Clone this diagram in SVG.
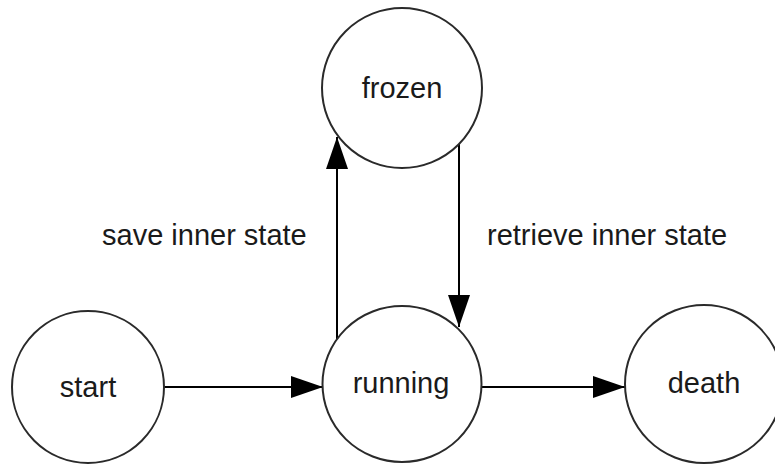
<svg xmlns="http://www.w3.org/2000/svg" width="775" height="464" viewBox="0 0 775 464">
  <style>
    .node ellipse { fill: #ffffff; stroke: #2a2a2a; stroke-width: 2; }
    .node text, .label { font-family: "Liberation Sans", Arial, sans-serif; font-size: 29px; fill: #1a1a1a; }
    .node text { text-anchor: middle; }
    .edge { stroke: #000000; stroke-width: 2; fill: none; marker-end: url(#arrow); }
  </style>
  <defs>
    <marker id="arrow" markerUnits="userSpaceOnUse" markerWidth="33" markerHeight="22" refX="32" refY="11" orient="auto">
      <path d="M0,0 L32,11 L0,22 z" fill="#000000"/>
    </marker>
  </defs>
  <rect width="775" height="464" fill="#ffffff"/>

  <g id="connectors">
    <line class="edge" x1="164" y1="387" x2="323" y2="387"/>
    <line class="edge" x1="482" y1="387" x2="625" y2="387"/>
    <line class="edge" x1="337" y1="340" x2="337" y2="137"/>
    <line class="edge" x1="459" y1="143" x2="459" y2="327"/>
  </g>

  <g id="node-frozen" class="node">
    <ellipse cx="402" cy="88" rx="80" ry="80"/>
    <text x="402" y="98">frozen</text>
  </g>
  <g id="node-start" class="node">
    <ellipse cx="88" cy="387" rx="76" ry="76"/>
    <text x="88" y="397">start</text>
  </g>
  <g id="node-running" class="node">
    <ellipse cx="402" cy="384" rx="79.5" ry="78"/>
    <text x="401" y="393">running</text>
  </g>
  <g id="node-death" class="node">
    <ellipse cx="704" cy="384" rx="79" ry="79"/>
    <text x="704" y="393">death</text>
  </g>

  <g id="edge-labels">
    <text class="label" x="102" y="245">save inner state</text>
    <text class="label" x="487" y="245">retrieve inner state</text>
  </g>
</svg>
